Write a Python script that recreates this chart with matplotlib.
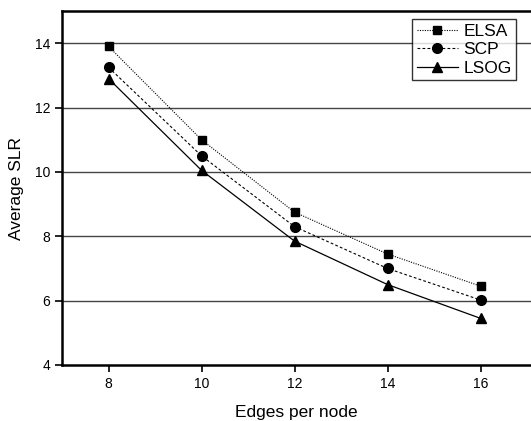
import matplotlib
matplotlib.use("Agg")
import matplotlib.pyplot as plt

edges = [8, 10, 12, 14, 16]
elsa = [13.9, 11.0, 8.75, 7.45, 6.45]
scp = [13.25, 10.5, 8.3, 7.0, 6.02]
lsog = [12.9, 10.05, 7.85, 6.5, 5.45]
yticks = [4, 6, 8, 10, 12, 14]

plt.rcParams['font.family'] = ['Liberation Sans', 'DejaVu Sans']

fig = plt.figure(figsize=(5.31, 4.21), dpi=100)
ax = fig.add_axes([62/531, 56/421, 469/531, 354/421])

ax.plot(edges, elsa, color='black', linestyle=(0, (1, 1.2)), linewidth=0.8,
        marker='s', markersize=6, label='ELSA')
ax.plot(edges, scp, color='black', linestyle=(0, (2.5, 2)), linewidth=0.8,
        marker='o', markersize=7, label='SCP')
ax.plot(edges, lsog, color='black', linestyle='-', linewidth=0.9,
        marker='^', markersize=7, label='LSOG')

ax.set_xlim(7, 7 + 469/46.5)
ax.set_ylim(4, 15)
ax.set_xticks(edges)
ax.set_yticks(yticks)
for y in yticks[1:]:
    ax.axhline(y, color='#444444', linewidth=1.0, zorder=0)

for s in ['left', 'bottom', 'top']:
    ax.spines[s].set_linewidth(1.8)
ax.spines['right'].set_visible(False)
ax.tick_params(axis='both', direction='out', length=5, width=1.2, labelsize=10)

ax.set_xlabel('Edges per node', fontsize=12.5, labelpad=10)
ax.set_ylabel('Average SLR', fontsize=12.5, labelpad=8)

leg = ax.legend(loc='upper right', bbox_to_anchor=(0.968, 0.977), fontsize=12.5,
                frameon=True, fancybox=False, edgecolor='black', handlelength=2.4,
                borderpad=0.25, labelspacing=0.2, handletextpad=0.3,
                borderaxespad=0.0)
leg.get_frame().set_linewidth(1.0)

fig.savefig('out.png', dpi=100)
